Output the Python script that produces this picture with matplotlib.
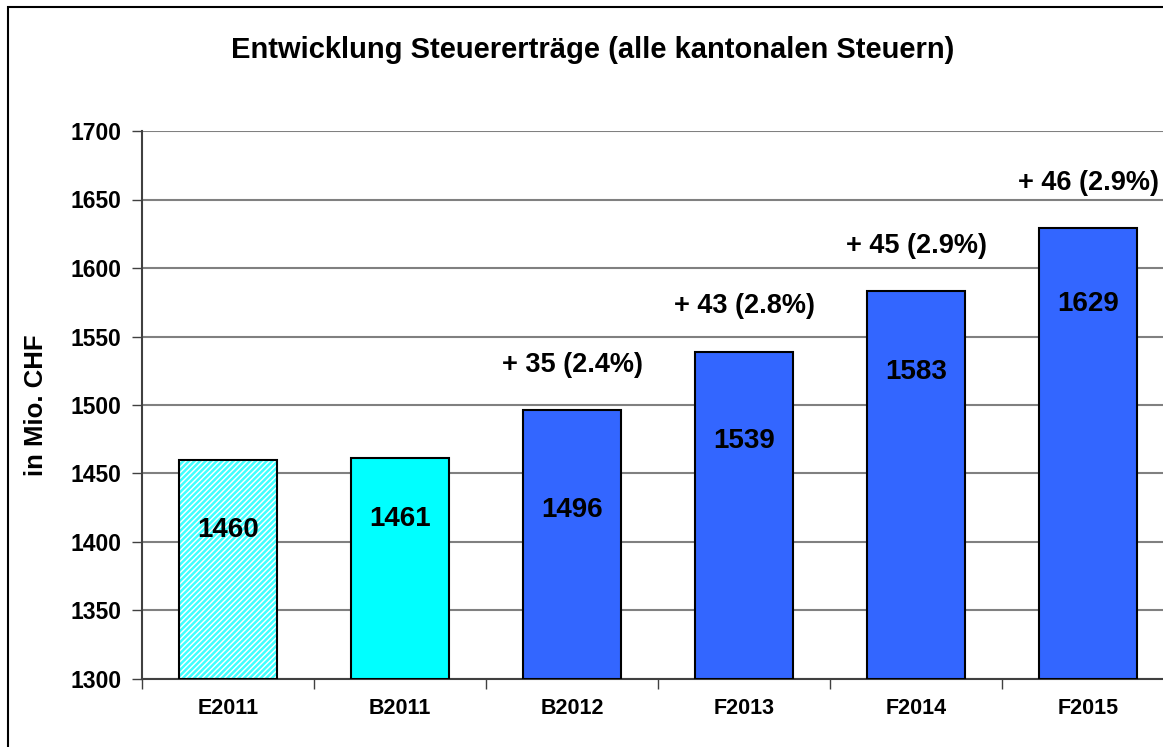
import matplotlib.pyplot as plt
from matplotlib.patches import Rectangle

# Data
categories = ["E2011", "B2011", "B2012", "F2013", "F2014", "F2015"]
values = [1460, 1461, 1496, 1539, 1583, 1629]
growth_labels = ["", "", "+ 35 (2.4%)", "+ 43 (2.8%)", "+ 45 (2.9%)", "+ 46 (2.9%)"]
yticks = [1300, 1350, 1400, 1450, 1500, 1550, 1600, 1650, 1700]

plt.rcParams["font.family"] = ["Liberation Sans", "DejaVu Sans"]
plt.rcParams["font.weight"] = "bold"
plt.rcParams["hatch.linewidth"] = 1.8

W, H = 1163, 747
fig = plt.figure(figsize=(W / 100, H / 100), dpi=100)
fig.patch.set_facecolor("white")

# outer chart frame (right / bottom edges fall outside the image)
fig.patches.append(Rectangle((8 / W, -0.05), 1.1, 1 - 7 / H + 0.05,
                             transform=fig.transFigure, fill=False,
                             edgecolor="black", linewidth=1.5))

ax = fig.add_axes([142 / W, 1 - 679 / H, (1174 - 142) / W, (679 - 131) / H])
x = list(range(len(categories)))
bar_w = 0.565

colors = ["white", "#00FFFF", "#3366FF", "#3366FF", "#3366FF", "#3366FF"]
base = yticks[0]
heights = [v - base for v in values]

# hatched first bar: white base with cyan stripes
ax.bar(x[0], heights[0], bottom=base, width=bar_w, color="white",
       edgecolor="#40FFFF", hatch="//////", linewidth=0, zorder=2)
ax.bar(x[0], heights[0], bottom=base, width=bar_w, fill=False,
       edgecolor="black", linewidth=1.5, zorder=3)
ax.bar(x[1:], heights[1:], bottom=base, width=bar_w, color=colors[1:],
       edgecolor="black", linewidth=1.5, zorder=3)

# value labels inside bars
label_drop = [51, 44, 73, 65, 59, 55]
for xi, v, d in zip(x, values, label_drop):
    ax.text(xi, v - d, str(v), ha="center", va="center", fontsize=20,
            fontweight="bold", zorder=4)

# growth labels above bars
for xi, v, g in zip(x, values, growth_labels):
    if g:
        ax.text(xi, v + 33, g, ha="center", va="center", fontsize=19.5,
                fontweight="bold", zorder=4)

ax.set_xlim(-0.5, len(categories) - 0.5)
ax.set_ylim(yticks[0], yticks[-1])
ax.set_yticks(yticks)
ax.set_yticklabels([str(t) for t in yticks], fontsize=16.5, fontweight="bold")
ax.yaxis.grid(True, color="#808080", linewidth=1.5, zorder=1)
ax.set_axisbelow(True)

ax.set_xticks(x)
ax.set_xticklabels(categories, fontsize=15.5, fontweight="bold")
ax.tick_params(axis="x", length=0, pad=14)
ax.set_xticks([i - 0.5 for i in range(len(categories) + 1)], minor=True)
ax.tick_params(axis="x", which="minor", length=7, width=1, color="#404040")
ax.tick_params(axis="y", length=7, width=1, color="#404040", pad=8)

for side in ["top", "right"]:
    ax.spines[side].set_visible(False)
ax.spines["left"].set_color("#404040")
ax.spines["bottom"].set_color("#404040")
ax.spines["left"].set_linewidth(1.5)
ax.spines["bottom"].set_linewidth(1.5)

ax.set_ylabel("in Mio. CHF", fontsize=18.5, fontweight="bold", labelpad=16)

fig.text(593 / W, 1 - 50 / H, "Entwicklung Steuererträge (alle kantonalen Steuern)",
         ha="center", va="center", fontsize=21, fontweight="bold")

fig.savefig("out.png", dpi=100)
